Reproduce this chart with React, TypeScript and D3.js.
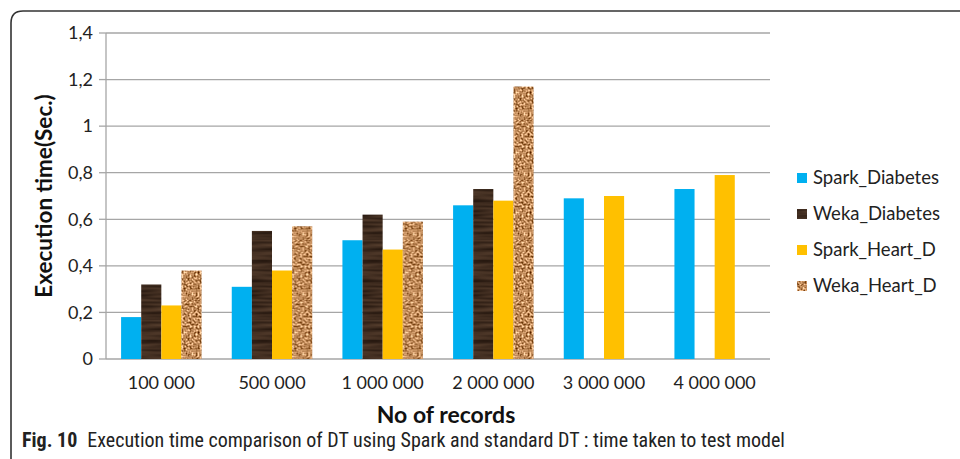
import React from 'react'
import * as d3 from 'd3'

const categories = ['100 000', '500 000', '1 000 000', '2 000 000', '3 000 000', '4 000 000']
const seriesNames = ['Spark_Diabetes', 'Weka_Diabetes', 'Spark_Heart_D', 'Weka_Heart_D']
const sparkDiabetes = [0.18, 0.31, 0.51, 0.66, 0.69, 0.73]
const wekaDiabetes = [0.32, 0.55, 0.62, 0.73, null, null]
const sparkHeart = [0.23, 0.38, 0.47, 0.68, 0.7, 0.79]
const wekaHeart = [0.38, 0.57, 0.59, 1.17, null, null]
const yTicks = [0, 0.2, 0.4, 0.6, 0.8, 1, 1.2, 1.4]

const seriesValues: (number | null)[][] = [sparkDiabetes, wekaDiabetes, sparkHeart, wekaHeart]
const fills = ['#00b0f0', 'url(#wood)', '#ffc000', 'url(#cork)']

const width = 960
const height = 459
const margin = { top: 33, right: 190, bottom: 100, left: 106 }
const chartFont = 'Lato, "Open Sans", sans-serif'

export default function App() {
  const x = d3
    .scaleBand<string>()
    .domain(categories)
    .range([margin.left, width - margin.right])
    .padding(0)
  const xInner = d3
    .scaleBand<string>()
    .domain(seriesNames)
    .range([0, x.bandwidth()])
    .paddingInner(0)
    .paddingOuter(0.75)
  const y = d3
    .scaleLinear()
    .domain([0, 1.4])
    .range([height - margin.bottom, margin.top])

  const fmt = (d: number) => String(+d.toFixed(1)).replace('.', ',')
  const plotRight = width - margin.right

  return (
    <svg
      width={width}
      height={height}
      style={{ position: 'absolute', left: 0, top: 0, background: '#fff' }}
    >
      <defs>
        <filter id="corkTex" x="0" y="0" width="100%" height="100%" colorInterpolationFilters="sRGB">
          <feTurbulence type="fractalNoise" baseFrequency="0.5" numOctaves="2" seed="3" result="noise" />
          <feColorMatrix
            in="noise"
            type="matrix"
            values="1.3 0 0 0 0.1  1.3 0 0 0 -0.11  1.3 0 0 0 -0.3  0 0 0 0 1"
            result="col"
          />
          <feComposite in="col" in2="SourceGraphic" operator="in" />
        </filter>
        <filter id="woodTex" x="0" y="0" width="100%" height="100%" colorInterpolationFilters="sRGB">
          <feTurbulence type="fractalNoise" baseFrequency="0.02 0.25" numOctaves="2" seed="7" result="noise" />
          <feColorMatrix
            in="noise"
            type="matrix"
            values="0.35 0 0 0 0.07  0.28 0 0 0 0.03  0.22 0 0 0 0.01  0 0 0 0 1"
            result="col"
          />
          <feComposite in="col" in2="SourceGraphic" operator="in" />
        </filter>
        <pattern id="cork" patternUnits="userSpaceOnUse" width="60" height="60">
          <rect width="60" height="60" fill="#c99b6c" filter="url(#corkTex)" />
        </pattern>
        <pattern id="wood" patternUnits="userSpaceOnUse" width="80" height="80">
          <rect width="80" height="80" fill="#3b2a1e" filter="url(#woodTex)" />
        </pattern>
      </defs>

      {/* figure frame */}
      <path d="M11,459 L11,23 Q11,11 23,11 L960,11" fill="none" stroke="#333" strokeWidth={1.6} />

      {/* gridlines and y ticks */}
      {yTicks.map((t) => (
        <g key={t}>
          <line x1={margin.left} x2={plotRight} y1={y(t)} y2={y(t)} stroke="#a6a6a6" strokeWidth={1.3} />
          <line x1={margin.left - 7} x2={margin.left} y1={y(t)} y2={y(t)} stroke="#a6a6a6" strokeWidth={1.3} />
          <text
            x={margin.left - 13}
            y={y(t)}
            dy="0.35em"
            textAnchor="end"
            fontFamily={chartFont}
            fontSize={18}
            fill="#222"
          >
            {fmt(t)}
          </text>
        </g>
      ))}
      <line x1={margin.left} x2={margin.left} y1={y(1.4)} y2={y(0)} stroke="#a6a6a6" strokeWidth={1.3} />

      {/* bars */}
      {categories.map((c, ci) => (
        <g key={c} transform={`translate(${x(c)},0)`}>
          {seriesNames.map((s, si) => {
            const v = seriesValues[si][ci]
            if (v == null) return null
            return (
              <rect
                key={s}
                x={xInner(s)}
                y={y(v)}
                width={xInner.bandwidth()}
                height={y(0) - y(v)}
                fill={fills[si]}
              />
            )
          })}
        </g>
      ))}

      {/* x labels */}
      {categories.map((c) => (
        <text
          key={c}
          x={(x(c) ?? 0) + x.bandwidth() / 2}
          y={y(0) + 30}
          textAnchor="middle"
          fontFamily={chartFont}
          fontSize={18}
          fill="#222"
        >
          {c}
        </text>
      ))}

      {/* axis titles */}
      <text
        transform={`translate(52,${(y(0) + y(1.4)) / 2}) rotate(-90)`}
        textAnchor="middle"
        fontFamily={chartFont}
        fontSize={22.5}
        fontWeight="bold"
        fill="#111"
      >
        Execution time(Sec.)
      </text>
      <text
        x={(margin.left + plotRight) / 2 + 8}
        y={423}
        textAnchor="middle"
        fontFamily={chartFont}
        fontSize={23}
        fontWeight="bold"
        fill="#111"
      >
        No of records
      </text>

      {/* legend */}
      {seriesNames.map((s, i) => (
        <g key={s} transform={`translate(797,${178 + i * 36})`}>
          <rect x={0} y={-5} width={10} height={10} fill={fills[i]} />
          <text x={16} y={0} dy="0.35em" fontFamily={chartFont} fontSize={18.5} fill="#222">
            {s}
          </text>
        </g>
      ))}

      {/* caption */}
      <text
        x={22}
        y={447}
        fontFamily='"Liberation Sans Narrow", "Roboto Condensed", "Arial Narrow", sans-serif'
        fontSize={20}
        fill="#222"
      >
        <tspan fontWeight="bold">Fig. 10</tspan>
        <tspan dx={10}>Execution time comparison of DT using Spark and standard DT : time taken to test model</tspan>
      </text>
    </svg>
  )
}
